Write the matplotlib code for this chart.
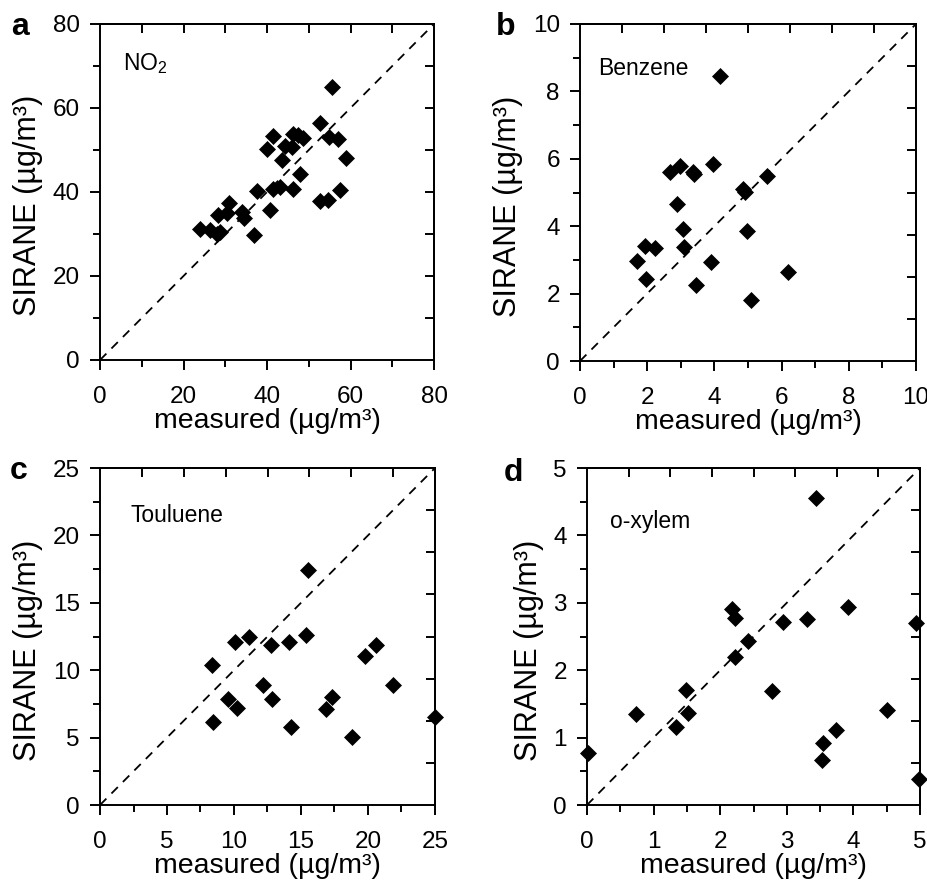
import numpy as np
import matplotlib
matplotlib.use("Agg")
import matplotlib.pyplot as plt
from matplotlib.ticker import MultipleLocator

plt.rcParams['font.family'] = ['Liberation Sans', 'DejaVu Sans']
plt.rcParams['mathtext.fontset'] = 'custom'
plt.rcParams['mathtext.rm'] = 'Liberation Sans'
plt.rcParams['mathtext.it'] = 'Liberation Sans:italic'
plt.rcParams['mathtext.bf'] = 'Liberation Sans:bold'

# ---- data ----
no2_measured = [55.6, 52.8, 41.4, 40.0, 46.3, 47.5, 48.7, 44.4, 46.0, 43.6, 54.8, 56.9, 58.9,
                48.0, 37.6, 41.5, 43.2, 46.3, 40.8, 52.7, 54.6, 57.4, 30.8, 28.3, 30.4, 34.0,
                34.4, 24.0, 26.4, 28.0, 28.8, 36.8]
no2_sirane = [64.9, 56.5, 53.3, 50.3, 53.9, 53.5, 52.9, 51.0, 50.7, 47.6, 53.1, 52.7, 48.0,
              44.2, 40.2, 40.8, 41.2, 40.8, 35.7, 37.9, 38.0, 40.4, 37.5, 34.6, 34.9, 35.3,
              33.7, 31.1, 30.9, 30.1, 30.5, 29.7]

benz_measured = [4.17, 3.97, 2.68, 2.98, 3.39, 3.37, 5.56, 4.86, 4.92, 2.90, 3.07, 4.96, 1.93,
                 2.23, 3.10, 1.69, 3.89, 1.96, 3.45, 6.20, 5.08]
benz_sirane = [8.45, 5.86, 5.62, 5.79, 5.54, 5.60, 5.48, 5.10, 5.02, 4.67, 3.91, 3.86, 3.42,
               3.34, 3.37, 2.97, 2.95, 2.43, 2.26, 2.64, 1.80]

tol_measured = [15.54, 11.14, 10.07, 12.73, 14.12, 15.35, 19.78, 20.57, 8.37, 12.13, 21.84,
                9.57, 10.19, 12.81, 17.33, 16.84, 8.45, 14.22, 18.83, 25.0]
tol_sirane = [17.41, 12.49, 12.07, 11.87, 12.07, 12.61, 11.07, 11.89, 10.38, 8.89, 8.89,
              7.89, 7.18, 7.89, 8.02, 7.10, 6.15, 5.78, 5.04, 6.53]

xyl_measured = [3.44, 3.92, 2.18, 2.22, 3.30, 2.95, 4.94, 2.42, 2.22, 1.49, 2.78, 1.51, 0.73,
                1.33, 4.51, 3.74, 3.54, 3.53, 0.02, 4.98]
xyl_sirane = [4.55, 2.94, 2.91, 2.77, 2.76, 2.71, 2.70, 2.44, 2.20, 1.70, 1.69, 1.37, 1.35,
              1.15, 1.41, 1.11, 0.92, 0.67, 0.77, 0.39]

panel_letters = ['a', 'b', 'c', 'd']
panel_names = ['NO$_2$', 'Benzene', 'Touluene', 'o-xylem']
limits = [80, 10, 25, 5]
majors = [20, 2, 5, 1]
minors = [10, 1, 2.5, 0.5]
name_pos = [(5.5, 70.5), (0.55, 8.68), (2.3, 21.5), (0.35, 4.2)]
xs = [no2_measured, benz_measured, tol_measured, xyl_measured]
ys = [no2_sirane, benz_sirane, tol_sirane, xyl_sirane]

xlabel = 'measured (µg/m³)'
ylabel = 'SIRANE (µg/m³)'

fig = plt.figure(figsize=(9.28, 8.82), dpi=100)
rects = [
    [100/928, (882-360)/882, 334/928, 336/882],
    [580/928, (882-361)/882, 336/928, 337/882],
    [100/928, (882-805)/882, 335/928, 337/882],
    [587/928, (882-805)/882, 333/928, 337/882],
]
letter_pos = [(11, 35), (496, 35), (10, 479), (504, 481)]

lw = 1.4
for i in range(4):
    ax = fig.add_axes(rects[i])
    lim = limits[i]
    ax.plot([0, lim], [0, lim], color='black', lw=1.3, ls=(0, (5, 4)), zorder=1)
    ax.plot(xs[i], ys[i], ls='none', marker='D', ms=7.8, color='black',
            mec='black', mew=0.5, zorder=3, clip_on=False)
    ax.set_xlim(0, lim)
    ax.set_ylim(0, lim)
    ax.xaxis.set_major_locator(MultipleLocator(majors[i]))
    ax.yaxis.set_major_locator(MultipleLocator(majors[i]))
    ax.xaxis.set_minor_locator(MultipleLocator(minors[i]))
    ax.yaxis.set_minor_locator(MultipleLocator(minors[i]))
    ax.tick_params(which='major', direction='out', length=7.5, width=lw,
                   labelsize=17.5)
    ax.tick_params(which='minor', direction='out', length=4.8, width=lw)
    ax.tick_params(axis='x', which='major', pad=11)
    ax.tick_params(axis='y', which='major', pad=7)
    for s in ax.spines.values():
        s.set_linewidth(lw)
    inner = np.linspace(0, lim, 9)[1:-1]
    top = ax.secondary_xaxis('top')
    top.set_xticks(inner)
    top.set_xticklabels([])
    top.tick_params(direction='in', length=6.5, width=lw)
    top.spines['top'].set_linewidth(lw)
    right = ax.secondary_yaxis('right')
    right.set_yticks(inner)
    right.set_yticklabels([])
    right.tick_params(direction='in', length=6.5, width=lw)
    right.spines['right'].set_linewidth(lw)
    ax.set_xlabel(xlabel, fontsize=20.5, labelpad=0)
    ax.set_ylabel(ylabel, fontsize=22, labelpad=7)
    ax.yaxis.label.set_y(0.46)
    ax.text(name_pos[i][0], name_pos[i][1], panel_names[i], fontsize=16.5,
            ha='left', va='center')
    lx, ly = letter_pos[i]
    fig.text(lx/928, 1 - ly/882, panel_letters[i], fontsize=23, fontweight='bold',
             ha='left', va='baseline')

fig.savefig('out.png', dpi=100)
